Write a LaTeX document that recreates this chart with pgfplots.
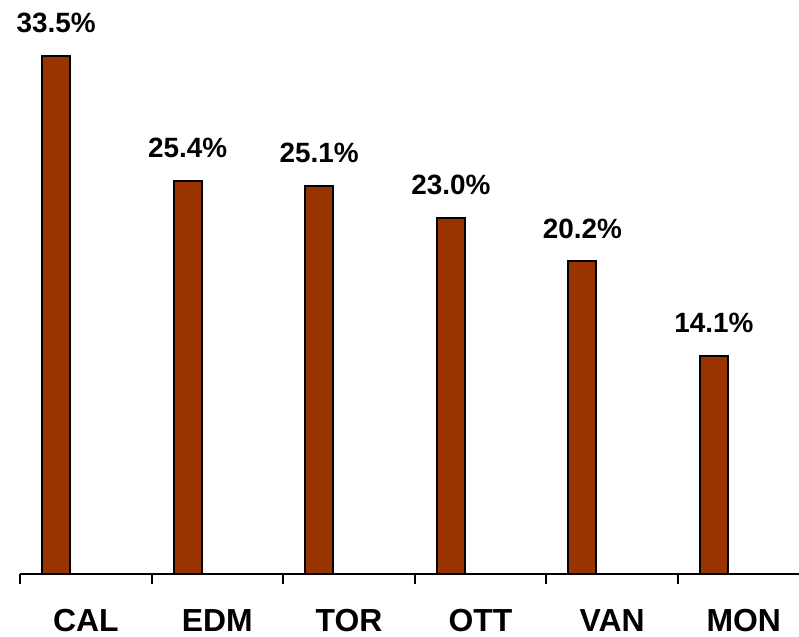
\documentclass[border=0pt]{standalone}
\usepackage{fontspec}
\setmainfont{Liberation Sans}
\usepackage{pgfplots}
\pgfplotsset{compat=1.18}
\definecolor{barbrown}{RGB}{153,51,0}
\begin{document}
\begin{tikzpicture}
\begin{axis}[
  name=ax,
  scale only axis,
  width=779bp, height=574bp,
  xmin=0, xmax=5.92,
  ymin=0, ymax=37.1,
  axis y line=none,
  axis x line=bottom,
  x axis line style={-, line width=2bp},
  clip=false,
  xtick={0.5,1.5,2.5,3.5,4.5,5.5},
  xticklabels={CAL,EDM,TOR,OTT,VAN,MON},
  major tick length=0pt,
  minor xtick={0,1,2,3,4,5},
  minor tick length=10bp,
  tick align=outside,
  minor tick style={black, line width=2bp},
  xticklabel style={font=\bfseries\fontsize{32}{32}\selectfont, anchor=north, inner sep=0pt, yshift=-35bp},
  /pgf/number format/assume math mode=true,
  nodes near coords={\pgfmathprintnumber[fixed, fixed zerofill, precision=1]{\pgfplotspointmeta}\%},
  every node near coord/.append style={anchor=south, inner sep=0pt, yshift=22bp, font=\bfseries\fontsize{28}{28}\selectfont},
]
\addplot[ybar, bar width=28bp, fill=barbrown, draw=black, line width=2bp]
  coordinates {(0.274,33.5) (1.274,25.4) (2.274,25.1) (3.274,23.0) (4.274,20.2) (5.274,14.1)};
\end{axis}
\pgfresetboundingbox
\path ([xshift=-20bp, yshift=-63bp]ax.south west) rectangle (ax.north east);
\end{tikzpicture}
\end{document}
